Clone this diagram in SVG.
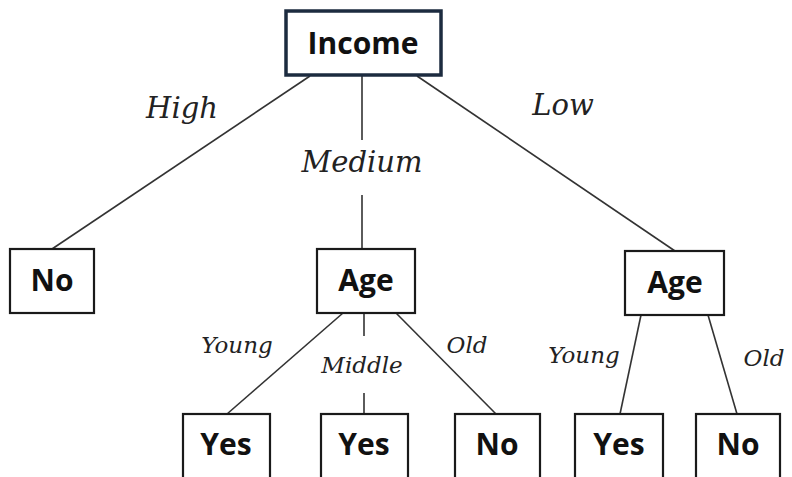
<svg xmlns="http://www.w3.org/2000/svg" width="792" height="477" viewBox="0 0 792 477">
<style>
.box{fill:#fff;stroke:#1a1a1a;stroke-width:2.2}
.root{fill:#fff;stroke:#1c2b3f;stroke-width:3.5}
.nt{font-family:"Open Sans","Liberation Sans",sans-serif;font-weight:bold;font-size:30px;fill:#111;text-anchor:middle}
.el{font-family:"DejaVu Serif","Liberation Serif",serif;font-style:italic;font-size:29px;fill:#222;text-anchor:middle}
.es{font-family:"DejaVu Serif","Liberation Serif",serif;font-style:italic;font-size:23px;fill:#222;text-anchor:middle}
.c line{stroke:#333;stroke-width:1.6}
</style>
<rect width="792" height="477" fill="#fff"/>
<g class="c" id="connectors">
<line x1="310" y1="76" x2="52" y2="249"/>
<line x1="362" y1="76" x2="362" y2="140"/>
<line x1="362" y1="195" x2="362" y2="249"/>
<line x1="417" y1="76" x2="675" y2="251"/>
<line x1="343" y1="313" x2="227" y2="414"/>
<line x1="364" y1="313" x2="364" y2="336"/>
<line x1="364" y1="393" x2="364" y2="414"/>
<line x1="396" y1="313" x2="496" y2="414"/>
<line x1="641" y1="315" x2="620" y2="414"/>
<line x1="708" y1="315" x2="737" y2="414"/>
</g>
<g class="labels">
<text class="el" x="182" y="118">High</text>
<text class="el" x="362" y="172">Medium</text>
<text class="el" x="563" y="115">Low</text>
<text class="es" x="237" y="353">Young</text>
<text class="es" x="362" y="373">Middle</text>
<text class="es" x="467" y="353">Old</text>
<text class="es" x="584" y="363">Young</text>
<text class="es" x="764" y="366">Old</text>
</g>
<g id="income"><rect class="root" x="286" y="11" width="155" height="64"/><text class="nt" x="363" y="54">Income</text></g>
<g id="no1"><rect class="box" x="10" y="249" width="84" height="64"/><text class="nt" x="52" y="291">No</text></g>
<g id="age1"><rect class="box" x="317" y="249" width="98" height="64"/><text class="nt" x="366" y="291">Age</text></g>
<g id="age2"><rect class="box" x="625" y="251" width="99" height="64"/><text class="nt" x="675" y="293">Age</text></g>
<g id="yes1"><rect class="box" x="183" y="414" width="87" height="70"/><text class="nt" x="226" y="455">Yes</text></g>
<g id="yes2"><rect class="box" x="321" y="414" width="87" height="70"/><text class="nt" x="364" y="455">Yes</text></g>
<g id="no2"><rect class="box" x="455" y="414" width="85" height="70"/><text class="nt" x="497" y="455">No</text></g>
<g id="yes3"><rect class="box" x="575" y="414" width="88" height="70"/><text class="nt" x="619" y="455">Yes</text></g>
<g id="no3"><rect class="box" x="696" y="414" width="84" height="70"/><text class="nt" x="738" y="455">No</text></g>
</svg>
